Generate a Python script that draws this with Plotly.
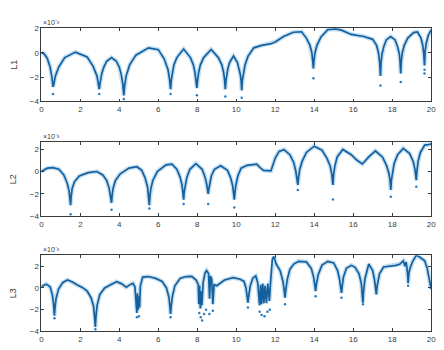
import plotly.graph_objects as go

# ---------------- data ----------------
x1 = [0, 0.15, 0.3, 0.45, 0.54, 0.58, 0.6,
      0.65, 0.72, 0.9, 1.2, 1.75, 2.35, 2.65, 2.85, 2.92, 2.97,
      3.0, 3.03, 3.1, 3.2, 3.35, 3.6, 3.85, 4.0, 4.1, 4.18, 4.23,
      4.27, 4.35, 4.53, 4.85, 5.5, 6.0, 6.3, 6.5, 6.58, 6.63,
      6.67, 6.72, 6.8, 6.95, 7.3, 7.65, 7.8, 7.88, 7.94, 7.98,
      8.02, 8.07, 8.16, 8.33, 8.71, 9.08, 9.26, 9.35, 9.4, 9.44,
      9.47, 9.51, 9.57, 9.66, 9.86, 10.06, 10.15, 10.21, 10.25, 10.28,
      10.31, 10.36, 10.45, 10.6, 10.9, 11.3, 11.75, 12.0, 12.43, 12.93, 13.35, 13.6, 13.78, 13.88, 13.93, 13.96,
      13.99, 14.04, 14.14, 14.35, 14.7, 15.1, 15.4, 15.9, 16.55, 17.0, 17.2, 17.3, 17.36, 17.4,
      17.43, 17.48, 17.57, 17.7, 17.92, 18.15, 18.28, 18.37, 18.41, 18.44,
      18.47, 18.52, 18.62, 18.8, 19.1, 19.3, 19.48, 19.57, 19.62, 19.66,
      19.69, 19.75, 19.85, 20]
y1 = [0.0, -0.1, -0.45, -1.2, -2.0, -2.5, -2.8,
      -2.5, -1.9, -1.15, -0.4, 0.05, -0.35, -1.1, -1.9, -2.5, -3.0,
      -2.6, -2.3, -1.7, -1.2, -0.7, -0.4, -0.7, -1.2, -1.8, -2.6, -3.5,
      -2.7, -1.9, -1.0, -0.2, 0.4, 0.25, -0.5, -1.4, -2.2, -3.0,
      -2.2, -1.6, -1.0, -0.4, 0.3, -0.4, -1.0, -1.6, -2.2, -2.9,
      -2.2, -1.6, -1.0, -0.4, 0.27, -0.4, -1.0, -1.6, -2.2, -3.0,
      -2.3, -1.8, -1.3, -0.8, -0.27, -0.8, -1.3, -1.8, -2.3, -3.1,
      -2.3, -1.7, -1.0, -0.3, 0.4, 0.6, 0.72, 0.88, 1.33, 1.68, 1.72, 1.2, 0.6, 0.0, -0.6, -1.3,
      -0.6, 0.0, 0.6, 1.3, 1.9, 1.95, 1.85, 1.5, 1.33, 1.1, 0.6, 0.0, -0.8, -1.9,
      -0.8, -0.1, 0.5, 1.05, 1.33, 1.05, 0.5, -0.1, -0.8, -1.7,
      -0.7, 0.0, 0.6, 1.2, 1.65, 1.7, 1.2, 0.6, 0.0, -1.05,
      0.1, 0.8, 1.4, 1.87]
dots1_x = [0.6, 2.97, 4.23, 6.63, 7.98, 9.44, 10.28, 13.96, 17.4, 18.44, 19.66, 19.66]
dots1_y = [-3.4, -3.4, -3.8, -3.4, -3.5, -3.6, -3.7, -2.1, -2.7, -2.4, -1.4, -1.7]

x2 = [0, 0.3, 0.6, 0.9, 1.15, 1.32, 1.42, 1.47, 1.5,
      1.53, 1.58, 1.7, 1.95, 2.4, 2.85, 3.15, 3.35, 3.48, 3.55, 3.6,
      3.63, 3.68, 3.8, 4.05, 4.5, 4.9, 5.15, 5.33, 5.45, 5.5, 5.54,
      5.57, 5.62, 5.72, 5.95, 6.4, 6.7, 6.95, 7.12, 7.22, 7.27, 7.3,
      7.33, 7.38, 7.47, 7.62, 7.93, 8.25, 8.4, 8.48, 8.53, 8.56,
      8.59, 8.64, 8.72, 8.88, 9.2, 9.55, 9.72, 9.82, 9.87, 9.9,
      9.93, 9.98, 10.08, 10.25, 10.55, 11.05, 11.25, 11.4, 11.78, 11.88, 12.0, 12.2, 12.45, 12.75, 12.95, 13.06, 13.12, 13.16,
      13.2, 13.26, 13.38, 13.6, 14.0, 14.4, 14.65, 14.82, 14.9, 14.96,
      15.0, 15.06, 15.18, 15.47, 15.9, 16.2, 16.47, 16.8, 17.14, 17.5, 17.72, 17.84, 17.9, 17.93,
      17.96, 18.01, 18.1, 18.28, 18.57, 18.9, 19.08, 19.17, 19.21, 19.24,
      19.27, 19.33, 19.45, 19.67, 19.85, 20]
y2 = [0.0, 0.3, 0.35, 0.2, -0.3, -1.0, -1.7, -2.3, -3.0,
      -2.2, -1.5, -0.9, -0.4, -0.1, 0.0, -0.3, -0.8, -1.5, -2.1, -2.8,
      -2.1, -1.5, -0.8, -0.2, 0.3, 0.43, 0.1, -0.6, -1.4, -2.1, -3.0,
      -2.2, -1.5, -0.8, 0.0, 0.6, 0.65, 0.2, -0.5, -1.2, -1.8, -2.5,
      -1.8, -1.2, -0.5, 0.2, 0.7, 0.2, -0.5, -1.1, -1.6, -2.0,
      -1.6, -1.0, -0.4, 0.2, 0.52, 0.1, -0.6, -1.3, -1.9, -2.5,
      -1.9, -1.2, -0.4, 0.3, 0.55, 0.65, 0.3, 0.1, 0.05, 0.6, 1.2, 1.8, 1.95, 1.5, 0.8, 0.0, -0.6, -1.2,
      -0.5, 0.2, 0.9, 1.7, 2.26, 1.9, 1.2, 0.5, -0.2, -1.2,
      -0.2, 0.5, 1.3, 1.97, 1.5, 1.0, 0.67, 1.3, 1.83, 1.3, 0.5, -0.2, -0.9, -1.65,
      -0.8, -0.1, 0.7, 1.5, 2.06, 1.6, 0.9, 0.2, -0.3, -0.78,
      0.0, 0.9, 1.7, 2.35, 2.4, 2.45]
dots2_x = [1.5, 3.6, 5.54, 7.3, 8.56, 9.9, 13.16, 14.96, 17.93, 19.24]
dots2_y = [-3.8, -3.4, -3.3, -2.9, -2.9, -3.2, -1.65, -2.5, -2.26, -1.36]

x3 = [0, 0.25, 0.45, 0.56, 0.62, 0.65, 0.67, 0.7, 0.75, 0.88, 1.1, 1.34, 1.6, 1.85, 2.1, 2.35, 2.55,
      2.68, 2.74, 2.77, 2.8, 2.86, 3.0, 3.25, 3.53, 3.86, 4.1, 4.36, 4.55, 4.7, 4.8, 4.86, 4.9,
      4.93, 4.97, 5.0, 5.04, 5.08, 5.2, 5.5, 5.87, 6.2, 6.42, 6.55, 6.6, 6.63, 6.66, 6.72, 6.85,
      7.13, 7.45, 7.72, 7.95, 8.05, 8.08, 8.12, 8.16, 8.2, 8.24, 8.3, 8.4, 8.48, 8.58, 8.63, 8.68,
      8.74, 8.8, 8.86, 9.0, 9.2, 9.4, 9.84, 10.2, 10.4, 10.5, 10.56, 10.6, 10.64, 10.72, 10.85,
      11.0, 11.1, 11.15, 11.2, 11.25, 11.3, 11.36, 11.42, 11.48, 11.55, 11.62, 11.7, 11.76, 11.85,
      11.92, 12.05, 12.25, 12.4, 12.46, 12.5, 12.54, 12.62, 12.75, 12.95, 13.2, 13.6, 13.85, 13.97,
      14.03, 14.07, 14.11, 14.2, 14.4, 14.7, 15.0, 15.2, 15.3, 15.36, 15.4, 15.44, 15.5, 15.65,
      15.9, 16.1, 16.3, 16.42, 16.47, 16.5, 16.53, 16.6, 16.8, 17.0, 17.1, 17.16, 17.19, 17.23,
      17.35, 17.56, 17.9, 18.2, 18.4, 18.57, 18.66, 18.72, 18.8, 18.82, 18.86, 18.95, 19.07, 19.24,
      19.45, 19.67, 19.8, 19.9, 20.0]
y3 = [0.13, 0.35, 0.1, -0.6, -1.4, -2.0, -2.55, -1.8, -1.0, -0.1, 0.5, 0.73, 0.55, 0.28, 0.05, -0.3, -0.9,
      -1.7, -2.6, -3.6, -2.6, -1.6, -0.6, 0.0, 0.28, 0.58, 0.4, 0.06, 0.3, 0.43, 0.1, -1.5, -2.3,
      -0.5, -2.0, -0.8, -1.8, 0.2, 1.0, 1.05, 0.88, 0.6, 0.0, -0.9, -1.7, -2.4, -1.7, -0.8, 0.2,
      0.9, 1.05, 1.06, 0.7, 0.3, -1.5, 0.2, -1.9, -0.3, -1.6, 0.5, 1.4, 1.6, 1.3, -1.0, 1.1,
      0.8, -1.5, 0.3, 0.2, 0.5, 0.73, 0.95, 0.8, 0.6, 0.0, -0.8, -1.36, -0.7, 0.2, 0.9,
      1.1, 0.5, -1.2, -1.6, 0.3, -1.5, 0.4, -1.4, 0.2, -1.4, 0.4, -1.2, 0.5, 2.6,
      2.9, 2.2, 1.6, 0.6, -0.2, -0.9, -0.2, 0.8, 1.7, 2.2, 2.45, 2.4, 1.8, 1.0,
      0.3, -0.3, 0.3, 1.2, 2.1, 2.45, 2.3, 1.6, 0.8, 0.0, -0.46, 0.2, 1.0, 1.8,
      2.08, 1.9, 1.3, 0.4, -0.5, -1.36, -0.4, 0.8, 2.2, 1.6, 0.7, 0.0, -0.6, 0.2,
      1.3, 1.93, 2.0, 2.08, 2.2, 2.5, 2.0, 2.4, 1.2, 0.43, 1.4, 2.0, 2.5, 3.0,
      2.8, 2.5, 1.8, 0.8, -0.1]
dots3_x = [0.67, 2.77, 4.9, 5.0, 6.63, 8.1, 8.18, 8.25, 8.35, 8.45, 8.62, 8.8, 10.6, 11.2, 11.3,
           11.45, 11.6, 11.72, 12.5, 14.07, 15.4, 16.5, 18.82]
dots3_y = [-2.8, -3.8, -2.7, -2.6, -2.7, -2.3, -2.7, -3.0, -2.4, -2.0, -2.4, -2.1, -1.8, -2.2, -2.5,
           -2.6, -2.2, -2.0, -1.5, -0.76, -0.9, -1.5, 0.2]

panel_names = ["L1", "L2", "L3"]
y_ranges = [[-4, 2], [-4, 2.6], [-4, 3]]
x_ticks = [0, 2, 4, 6, 8, 10, 12, 14, 16, 18, 20]
y_ticks = [-4, -2, 0, 2]
exponent_label = "×10⁻³"

# ---------------- figure ----------------
W, H = 444, 350
left, right = 40, 436
panels_px = [(25, 100), (142, 218), (258, 336)]

series = [(x1, y1, dots1_x, dots1_y), (x2, y2, dots2_x, dots2_y), (x3, y3, dots3_x, dots3_y)]

fig = go.Figure()
core = "#14609f"
axis_col = "#3a3a3a"

for i, (xs, ys, dx, dy) in enumerate(series):
    xa = "x" if i == 0 else f"x{i+1}"
    ya = "y" if i == 0 else f"y{i+1}"
    fig.add_trace(go.Scatter(x=xs, y=ys, mode="lines", xaxis=xa, yaxis=ya,
                             line=dict(color="rgba(0,114,189,0.22)", width=4.5),
                             hoverinfo="skip", showlegend=False))
    fig.add_trace(go.Scatter(x=xs, y=ys, mode="lines", xaxis=xa, yaxis=ya,
                             line=dict(color=core, width=1.7),
                             showlegend=False))
    fig.add_trace(go.Scatter(x=dx, y=dy, mode="markers", xaxis=xa, yaxis=ya,
                             marker=dict(color="#2a7bbf", size=2.5),
                             showlegend=False))

layout = dict(width=W, height=H, margin=dict(l=0, r=0, t=0, b=0),
              paper_bgcolor="white", plot_bgcolor="white",
              font=dict(family="Liberation Sans, Arial, sans-serif", size=8, color=axis_col),
              showlegend=False)

annotations = []
for i, (top, bot) in enumerate(panels_px):
    xk = "xaxis" if i == 0 else f"xaxis{i+1}"
    yk = "yaxis" if i == 0 else f"yaxis{i+1}"
    ya = "y" if i == 0 else f"y{i+1}"
    layout[xk] = dict(domain=[left / W, right / W], range=[0, 20], anchor=ya,
                      tickvals=x_ticks, ticks="inside", ticklen=3, tickcolor=axis_col,
                      showline=True, linecolor=axis_col, linewidth=0.8, mirror="ticks",
                      showgrid=False, zeroline=False, tickfont=dict(size=8, color=axis_col))
    layout[yk] = dict(domain=[1 - bot / H, 1 - top / H], range=y_ranges[i],
                      anchor="x" if i == 0 else f"x{i+1}",
                      tickvals=y_ticks, ticks="inside", ticklen=3, tickcolor=axis_col,
                      showline=True, linecolor=axis_col, linewidth=0.8, mirror="ticks",
                      showgrid=False, zeroline=False, tickfont=dict(size=8, color=axis_col))
    annotations.append(dict(x=12 / W, y=1 - (top + bot) / 2 / H, xref="paper", yref="paper",
                            text=panel_names[i], showarrow=False, textangle=-90,
                            font=dict(size=9, color=axis_col), xanchor="center", yanchor="middle"))
    annotations.append(dict(x=left / W, y=1 - top / H, xref="paper", yref="paper",
                            text=exponent_label, showarrow=False,
                            font=dict(size=7, color=axis_col), xanchor="left", yanchor="bottom"))

layout["annotations"] = annotations
fig.update_layout(**layout)
fig.write_html("out.html")
